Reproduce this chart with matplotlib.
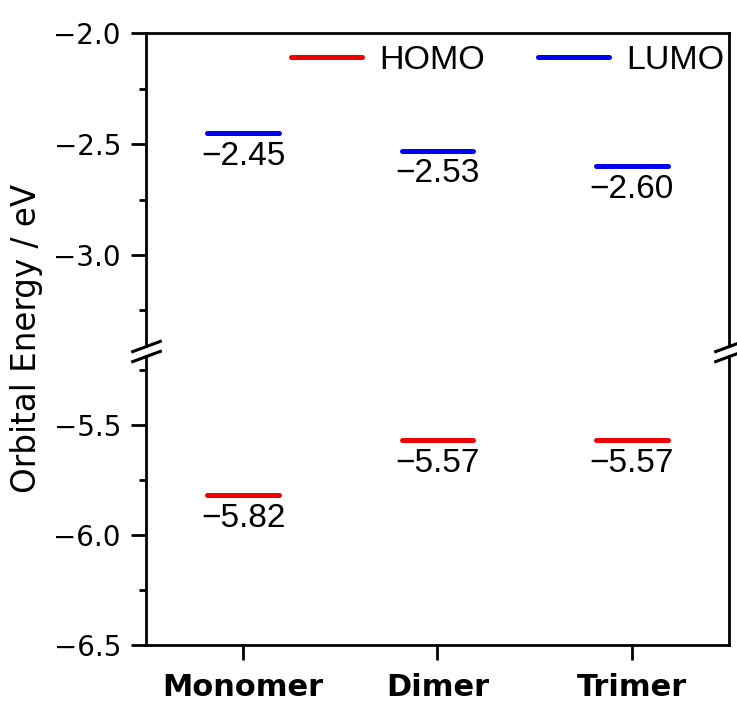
import numpy as np
import matplotlib
matplotlib.use("Agg")
import matplotlib.pyplot as plt
from matplotlib.ticker import MultipleLocator

# data
systems = ["Monomer", "Dimer", "Trimer"]
homo = [-5.82, -5.57, -5.57]
lumo = [-2.45, -2.53, -2.60]

homo_color = "#f00000"
lumo_color = "#0000f0"

x = np.arange(1, len(systems) + 1)
half_w = 0.185

plt.rcParams["font.family"] = "DejaVu Sans"

fig = plt.figure(figsize=(7.37, 7.04), dpi=100)
ax_top = fig.add_axes([0.1981, 0.5085, 0.7910, 0.4446])
ax_bot = fig.add_axes([0.1981, 0.0838, 0.7910, 0.4105])

for ax in (ax_top, ax_bot):
    ax.hlines(lumo, x - half_w, x + half_w, color=lumo_color, lw=3.6, capstyle="round")
    ax.hlines(homo, x - half_w, x + half_w, color=homo_color, lw=3.6, capstyle="round")
    ax.set_xlim(0.5, 3.5)
    for s in ax.spines.values():
        s.set_linewidth(2.0)
    ax.yaxis.set_major_locator(MultipleLocator(0.5))
    ax.yaxis.set_minor_locator(MultipleLocator(0.25))
    ax.tick_params(axis="y", which="major", direction="out", length=11, width=2.0,
                   labelsize=20, pad=7)
    ax.tick_params(axis="y", which="minor", direction="out", length=5, width=2.0)

ax_top.set_ylim(-3.41, -2.0)
ax_bot.set_ylim(-6.5, -5.186)

ax_top.spines["bottom"].set_visible(False)
ax_bot.spines["top"].set_visible(False)
ax_top.tick_params(axis="x", which="both", bottom=False, labelbottom=False)

ax_bot.set_xticks(x)
ax_bot.set_xticklabels(systems, fontsize=22, fontweight="bold")
ax_bot.tick_params(axis="x", direction="out", length=11, width=2.0, pad=9)

# value labels under each level
def fmt(v):
    return f"{v:.2f}".replace("-", "\u2212")

for xi, v in zip(x, lumo):
    ax_top.annotate(fmt(v), (xi, v), xytext=(0, -5.5), textcoords="offset points",
                    ha="center", va="top", fontsize=24, family="Liberation Sans")
for xi, v in zip(x, homo):
    ax_bot.annotate(fmt(v), (xi, v), xytext=(0, -5.5), textcoords="offset points",
                    ha="center", va="top", fontsize=24, family="Liberation Sans")

# break marks
d = 0.37
kw = dict(marker=[(-1, -d), (1, d)], markersize=22, linestyle="none",
          color="k", mec="k", mew=2.2, clip_on=False)
ax_top.plot([0, 1], [0, 0], transform=ax_top.transAxes, **kw)
ax_bot.plot([0, 1], [1, 1], transform=ax_bot.transAxes, **kw)

# legend
h1, = ax_top.plot([], [], color=homo_color, lw=3.6, solid_capstyle="round", label="HOMO")
h2, = ax_top.plot([], [], color=lumo_color, lw=3.6, solid_capstyle="round", label="LUMO")
ax_top.legend(handles=[h1, h2], loc="upper right", bbox_to_anchor=(1.004, 0.984),
              ncol=2, frameon=False,
              prop={"family": "Liberation Sans", "size": 24.5},
              handlelength=2.1, handletextpad=0.5, columnspacing=1.55,
              borderpad=0.05, borderaxespad=0.15)

fig.text(27 / 737, 1 - 338 / 704, "Orbital Energy / eV", rotation=90,
         ha="center", va="center", fontsize=23.5)

fig.savefig("out.png", dpi=100)
